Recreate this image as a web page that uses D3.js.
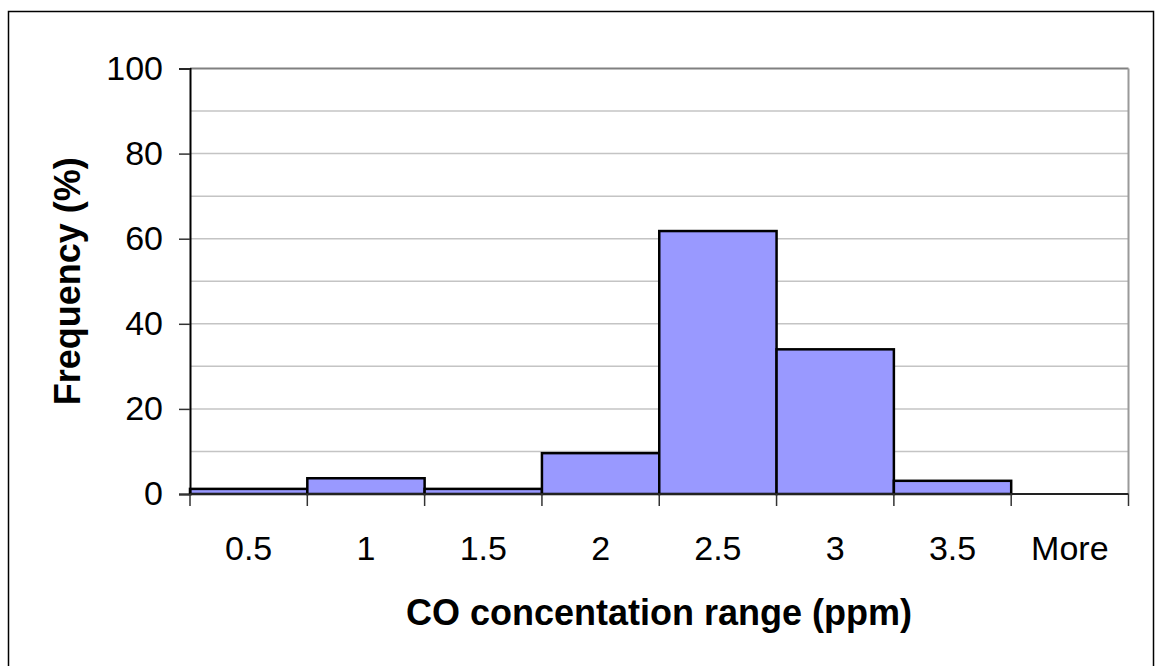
<!DOCTYPE html>
<meta charset="utf-8">
<head>
<style>
  body { margin: 0; background: #fff; }
  text { font-family: "Liberation Sans", Arial, sans-serif; }
</style>
</head>
<body>
<script src="https://d3js.org/d3.v7.min.js"></script>
<div id="chart"></div>
<script>
    // data
    var categories = ["0.5", "1", "1.5", "2", "2.5", "3", "3.5", "More"];
    var frequency = [1.2, 3.7, 1.2, 9.6, 61.8, 34.0, 3.1, 0];
    var yTicks = [0, 20, 40, 60, 80, 100];
    var yGrid = [10, 20, 30, 40, 50, 60, 70, 80, 90];

    var W = 1161, H = 666;
    var margin = {top: 68.5, right: 32.5, bottom: 172, left: 190},
        width = W - margin.left - margin.right,
        height = H - margin.top - margin.bottom;

    var svg = d3.select("#chart")
      .append("svg")
        .attr("width", W)
        .attr("height", H);

    // outer chart border (bottom edge runs off the picture)
    svg.append("rect")
      .attr("x", 8.5).attr("y", 11.5)
      .attr("width", 1145).attr("height", 680)
      .attr("fill", "none")
      .attr("stroke", "#000")
      .attr("stroke-width", 1.5);

    var g = svg.append("g")
      .attr("transform", "translate(" + margin.left + "," + margin.top + ")");

    var x = d3.scaleBand()
      .domain(categories)
      .range([0, width])
      .padding(0);

    var y = d3.scaleLinear()
      .domain([0, 100])
      .range([height, 0]);

    // gridlines
    g.selectAll(".grid")
      .data(yGrid)
      .enter().append("line")
        .attr("x1", 0).attr("x2", width)
        .attr("y1", function(d) { return y(d); })
        .attr("y2", function(d) { return y(d); })
        .attr("stroke", "#c4c4c4")
        .attr("stroke-width", 1.5);

    // plot frame, top and right in gray
    g.append("line")
      .attr("x1", 0).attr("x2", width)
      .attr("y1", y(100)).attr("y2", y(100))
      .attr("stroke", "#808080").attr("stroke-width", 2);
    g.append("line")
      .attr("x1", width).attr("x2", width)
      .attr("y1", y(100)).attr("y2", height)
      .attr("stroke", "#9a9a9a").attr("stroke-width", 2);

    // bars
    g.selectAll(".bar")
      .data(frequency)
      .enter().append("rect")
        .attr("x", function(d, i) { return x(categories[i]); })
        .attr("y", function(d) { return y(d); })
        .attr("width", x.bandwidth())
        .attr("height", function(d) { return height - y(d); })
        .attr("fill", function(d) { return d > 0 ? "#9999ff" : "none"; })
        .attr("stroke", function(d) { return d > 0 ? "#000" : "none"; })
        .attr("stroke-width", 2.5);

    // y axis
    var yAxis = g.append("g")
      .call(d3.axisLeft(y).tickValues(yTicks).tickSize(11).tickPadding(16));
    yAxis.select(".domain").attr("stroke", "#000").attr("stroke-width", 2);
    yAxis.selectAll(".tick line").attr("stroke", "#333").attr("stroke-width", 1.5);
    yAxis.selectAll(".tick text")
      .attr("font-size", "34px")
      .attr("fill", "#000")
      .style("font-family", "'Liberation Sans', Arial, sans-serif");

    // x axis: ticks at band edges
    g.append("line")
      .attr("x1", 0).attr("x2", width)
      .attr("y1", height).attr("y2", height)
      .attr("stroke", "#222").attr("stroke-width", 2);
    var edges = categories.map(function(c) { return x(c); }).concat([width]);
    g.selectAll(".xtick")
      .data(edges)
      .enter().append("line")
        .attr("x1", function(d) { return d; })
        .attr("x2", function(d) { return d; })
        .attr("y1", height).attr("y2", height + 12)
        .attr("stroke", "#333").attr("stroke-width", 1.5);
    g.selectAll(".xlabel")
      .data(categories)
      .enter().append("text")
        .attr("x", function(d) { return x(d) + x.bandwidth() / 2; })
        .attr("y", height + 66)
        .attr("text-anchor", "middle")
        .attr("font-size", "34px")
        .text(function(d) { return d; });

    // axis titles
    svg.append("text")
      .attr("x", 659).attr("y", 625)
      .attr("text-anchor", "middle")
      .attr("font-size", "36px")
      .attr("font-weight", "bold")
      .text("CO concentation range (ppm)");

    svg.append("text")
      .attr("transform", "translate(80," + (margin.top + height / 2) + ") rotate(-90)")
      .attr("text-anchor", "middle")
      .attr("font-size", "36px")
      .attr("font-weight", "bold")
      .text("Frequency (%)");
</script>
</body>
